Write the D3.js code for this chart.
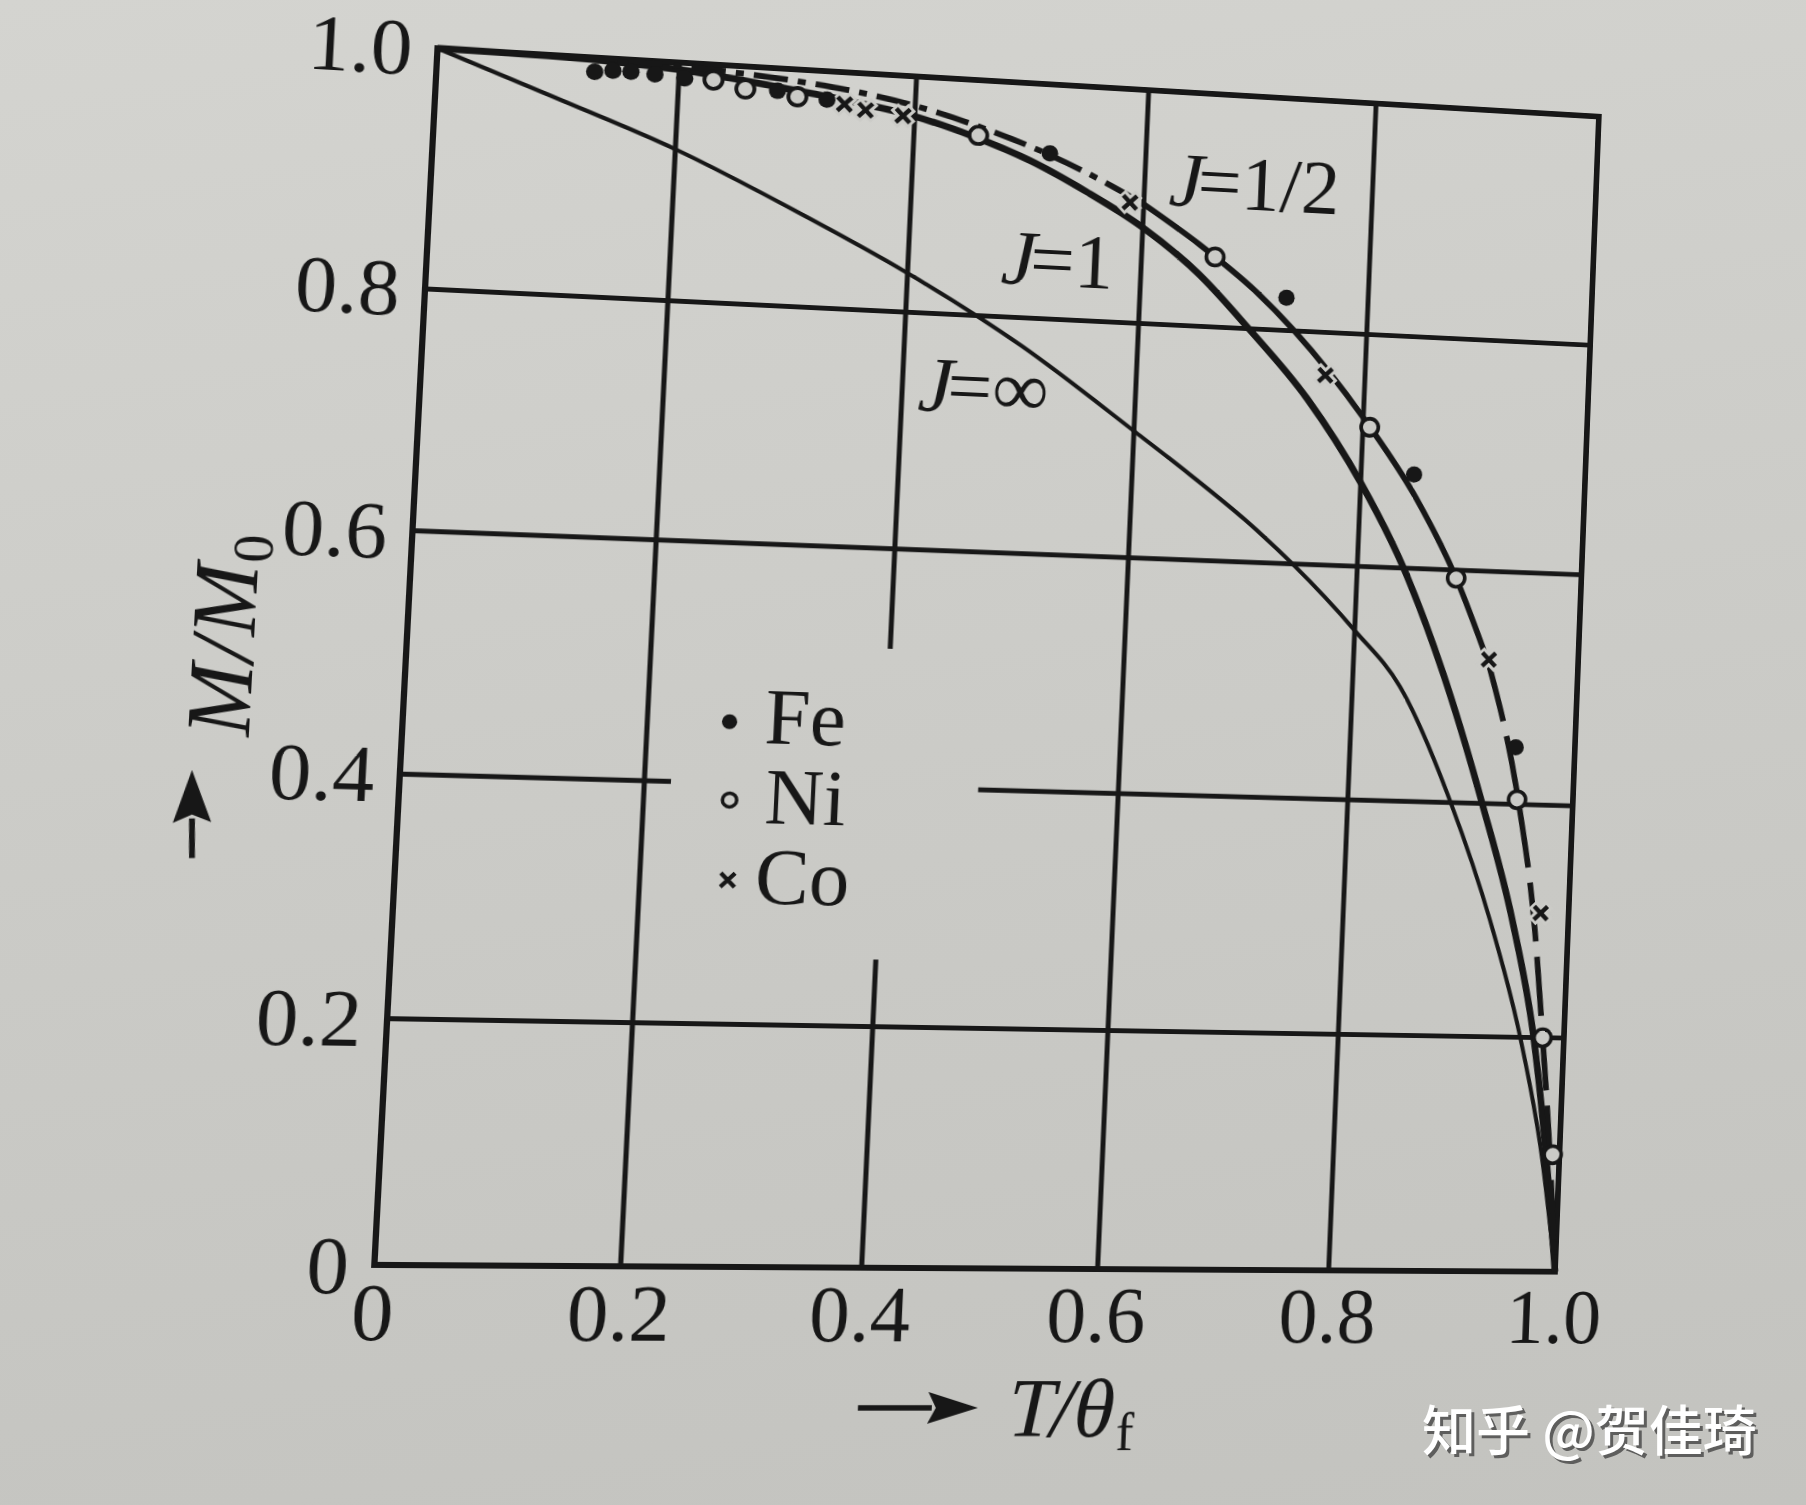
<!DOCTYPE html>
<html><head><meta charset="utf-8">
<script src="https://cdn.jsdelivr.net/npm/d3@7"></script>
<style>
html,body{margin:0;padding:0;width:1806px;height:1505px;overflow:hidden;
 background:linear-gradient(172deg,#d4d4d0 0%,#cbcbc7 50%,#c3c3bf 100%);}
#warp{position:absolute;left:0;top:0;width:1806px;height:1505px;transform-origin:0 0;}
#wm{position:absolute;left:0;top:0;}
</style></head><body>
<div id="warp"><svg id="chart" width="1806" height="1505"></svg></div>
<svg id="wm" width="1806" height="1505"></svg>
<script>
// ---------------- data ----------------
const xTicks = [0, 0.2, 0.4, 0.6, 0.8, 1.0];
const xTickLabels = ["0", "0.2", "0.4", "0.6", "0.8", "1.0"];
const yTicks = [0, 0.2, 0.4, 0.6, 0.8, 1.0];
const yTickLabels = ["0", "0.2", "0.4", "0.6", "0.8", "1.0"];

// Brillouin curves M/M0 vs T/θf
const curveJhalf = [[0,1],[0.1,1.0],[0.2,0.997],[0.3,0.99],[0.35,0.984],[0.4,0.975],[0.45,0.962],[0.5,0.946],[0.55,0.926],[0.6,0.902],[0.65,0.87],[0.7,0.833],[0.736,0.8],[0.8,0.728],[0.85,0.66],[0.888,0.593],[0.92,0.52],[0.951,0.404],[0.97,0.295],[0.981,0.2],[0.99,0.115],[1,0]];
const curveJone = [[0,1],[0.1,0.999],[0.2,0.994],[0.3,0.982],[0.35,0.975],[0.4,0.966],[0.45,0.952],[0.5,0.934],[0.55,0.91],[0.6,0.882],[0.65,0.845],[0.696,0.8],[0.75,0.742],[0.8,0.672],[0.841,0.6],[0.88,0.51],[0.919,0.4],[0.95,0.3],[0.973,0.2],[0.988,0.1],[1,0]];
const curveJinf = [[0,1],[0.1,0.964],[0.2,0.927],[0.3,0.882],[0.4,0.833],[0.5,0.776],[0.6,0.708],[0.65,0.673],[0.7,0.636],[0.743,0.6],[0.8,0.545],[0.842,0.498],[0.891,0.4],[0.93,0.3],[0.961,0.2],[0.984,0.1],[1,0]];

// experimental points
const feData = [[0.13,0.988],[0.145,0.99],[0.16,0.99],[0.18,0.989],[0.205,0.987],[0.283,0.981],[0.325,0.976],[0.517,0.941],[0.728,0.828],[0.847,0.681],[0.947,0.449]];
const niData = [[0.229,0.987],[0.256,0.981],[0.30,0.977],[0.455,0.953],[0.664,0.86],[0.806,0.72],[0.888,0.593],[0.95,0.404],[0.981,0.2],[0.994,0.1]];
const coData = [[0.34,0.973],[0.358,0.969],[0.39,0.966],[0.588,0.903],[0.765,0.763],[0.92,0.524],[0.975,0.307]];

const legendItems = ["Fe", "Ni", "Co"];
const curveLabels = [{j:"1/2"},{j:"1"},{j:"\u221E"}];

// grid lines (with the interruptions of the original figure)
const vGrid = [0.2, 0.4, 0.6, 0.8];
const hGrid = [0.2, 0.4, 0.6, 0.8];
const vGridGaps = [{at:0.4, from:0.256, to:0.516}];
const hGridGaps = [{at:0.4, from:0.222, to:0.48}];

// ---------------- layout ----------------
const INK = "#171717", PAPER = "#cbcbc7";
const SERIF = "'Liberation Serif','Times New Roman',serif";
const PL = 400, PR = 1580, PT = 50, PB = 1267;   // flat plot rectangle
// where the plot corners sit in the photographed page
const photoCorners = [[437.5,48.3],[1598.7,116.6],[1555,1271.7],[374.4,1265]];
const flatCorners = [[PL,PT],[PR,PT],[PR,PB],[PL,PB]];

function solveH(src, dst){
  const A=[], b=[];
  for(let i=0;i<4;i++){
    const [x,y]=src[i], [X,Y]=dst[i];
    A.push([x,y,1,0,0,0,-x*X,-y*X]); b.push(X);
    A.push([0,0,0,x,y,1,-x*Y,-y*Y]); b.push(Y);
  }
  const n=8;
  for(let c=0;c<n;c++){
    let p=c; for(let r=c+1;r<n;r++) if(Math.abs(A[r][c])>Math.abs(A[p][c])) p=r;
    [A[c],A[p]]=[A[p],A[c]]; [b[c],b[p]]=[b[p],b[c]];
    for(let r=0;r<n;r++){ if(r===c) continue; const f=A[r][c]/A[c][c];
      for(let k=c;k<n;k++) A[r][k]-=f*A[c][k]; b[r]-=f*b[c]; }
  }
  const h=b.map((v,i)=>v/A[i][i]);
  return [[h[0],h[1],h[2]],[h[3],h[4],h[5]],[h[6],h[7],1]];
}
function inv3(m){
  const [a,b,c]=m[0],[d,e,f]=m[1],[g,h,i]=m[2];
  const A=e*i-f*h, B=-(d*i-f*g), C=d*h-e*g;
  const det=a*A+b*B+c*C;
  return [[A/det,-(b*i-c*h)/det,(b*f-c*e)/det],
          [B/det,(a*i-c*g)/det,-(a*f-c*d)/det],
          [C/det,-(a*h-b*g)/det,(a*e-b*d)/det]];
}
const H = solveH(flatCorners, photoCorners);
const Hi = inv3(H);
function flat(p){ // photo px -> flat px
  const X=p[0],Y=p[1];
  const w=Hi[2][0]*X+Hi[2][1]*Y+Hi[2][2];
  return [(Hi[0][0]*X+Hi[0][1]*Y+Hi[0][2])/w,(Hi[1][0]*X+Hi[1][1]*Y+Hi[1][2])/w];
}
document.getElementById("warp").style.transform =
  `matrix3d(${H[0][0]},${H[1][0]},0,${H[2][0]},${H[0][1]},${H[1][1]},0,${H[2][1]},0,0,1,0,${H[0][2]},${H[1][2]},0,${H[2][2]})`;

// ---------------- chart ----------------
const svg = d3.select("#chart");
const x = d3.scaleLinear().domain([0,1]).range([PL,PR]);
const y = d3.scaleLinear().domain([0,1]).range([PB,PT]);

// grid
const gridG = svg.append("g").attr("stroke",INK).attr("stroke-width",5).attr("fill","none");
vGrid.forEach(u=>{
  const g = vGridGaps.find(d=>d.at===u);
  const segs = g ? [[0,g.from],[g.to,1]] : [[0,1]];
  segs.forEach(([a,b])=>gridG.append("line").attr("x1",x(u)).attr("x2",x(u)).attr("y1",y(a)).attr("y2",y(b)));
});
hGrid.forEach(v=>{
  const g = hGridGaps.find(d=>d.at===v);
  const segs = g ? [[0,g.from],[g.to,1]] : [[0,1]];
  segs.forEach(([a,b])=>gridG.append("line").attr("y1",y(v)).attr("y2",y(v)).attr("x1",x(a)).attr("x2",x(b)));
});
// frame
svg.append("rect").attr("x",x(0)).attr("y",y(1)).attr("width",x(1)-x(0)).attr("height",y(0)-y(1))
  .attr("fill","none").attr("stroke",INK).attr("stroke-width",6);

// axes (labels only)
const gx = svg.append("g").attr("transform",`translate(0,${y(0)})`)
  .call(d3.axisBottom(x).tickValues(xTicks).tickSize(0).tickFormat((d,i)=>xTickLabels[i]));
gx.select(".domain").remove();
gx.attr("font-family",SERIF).attr("font-size",80).attr("color",INK);
gx.selectAll("text").attr("y",74).attr("dy",0);

const gy = svg.append("g").attr("transform",`translate(${x(0)},0)`)
  .call(d3.axisLeft(y).tickValues(yTicks).tickSize(0).tickPadding(24).tickFormat((d,i)=>yTickLabels[i]));
gy.select(".domain").remove();
gy.attr("font-family",SERIF).attr("font-size",80).attr("color",INK);
gy.selectAll("text").attr("dy","0.34em");

// curves
const line = d3.line().x(d=>x(d[0])).y(d=>y(d[1])).curve(d3.curveMonotoneX);
svg.append("path").attr("d",line(curveJinf)).attr("fill","none").attr("stroke",INK).attr("stroke-width",4.2);
svg.append("path").attr("d",line(curveJone)).attr("fill","none").attr("stroke",INK).attr("stroke-width",7);
svg.append("path").attr("d",line(curveJhalf.filter(d=>d[0]<=0.6))).attr("fill","none")
  .attr("stroke",INK).attr("stroke-width",6).attr("stroke-dasharray","34 10 8 10");
svg.append("path").attr("d",line(curveJhalf.filter(d=>d[0]>=0.6 && d[0]<=0.92))).attr("fill","none")
  .attr("stroke",INK).attr("stroke-width",6);
svg.append("path").attr("d",line(curveJhalf.filter(d=>d[0]>=0.92))).attr("fill","none")
  .attr("stroke",INK).attr("stroke-width",6).attr("stroke-dasharray","62 16");

// markers
const mk = svg.append("g");
function cross(g, cx, cy, s, sw, col){
  g.append("path").attr("d",`M${cx-s},${cy-s}L${cx+s},${cy+s}M${cx-s},${cy+s}L${cx+s},${cy-s}`)
    .attr("stroke",col).attr("stroke-width",sw).attr("fill","none");
}
coData.forEach(d=>cross(mk,x(d[0]),y(d[1]),9,11,PAPER));
coData.forEach(d=>cross(mk,x(d[0]),y(d[1]),7,4.5,INK));
feData.forEach(d=>mk.append("circle").attr("cx",x(d[0])).attr("cy",y(d[1])).attr("r",8.5).attr("fill",INK));
niData.forEach(d=>mk.append("circle").attr("cx",x(d[0])).attr("cy",y(d[1])).attr("r",9)
  .attr("fill",PAPER).attr("stroke",INK).attr("stroke-width",3.8));

// curve labels  J=1/2, J=1, J=∞
const labelPos = [[1168,205],[1000,283],[917,410]];
curveLabels.forEach((c,i)=>{
  const p = flat(labelPos[i]);
  const t = svg.append("text").attr("x",p[0]).attr("y",p[1]).attr("font-family",SERIF)
    .attr("font-size",80).attr("fill",INK);
  t.append("tspan").attr("font-style","italic").text("J");
  t.append("tspan").attr("dx",-6).text("=" + c.j);
});

// legend
const legMarks = [[729.6,721.7],[729.6,800],[727.7,880]];
const legText = [[764,743],[764,823],[754,903]];
legendItems.forEach((name,i)=>{
  const m = flat(legMarks[i]);
  if(i===0) mk.append("circle").attr("cx",m[0]).attr("cy",m[1]).attr("r",7.5).attr("fill",INK);
  if(i===1) mk.append("circle").attr("cx",m[0]).attr("cy",m[1]).attr("r",7).attr("fill","none").attr("stroke",INK).attr("stroke-width",3.5);
  if(i===2) cross(mk,m[0],m[1],7,4.2,INK);
  const p = flat(legText[i]);
  svg.append("text").attr("x",p[0]).attr("y",p[1]).attr("font-family",SERIF).attr("font-size",80)
    .attr("fill",INK).text(name);
});

// axis titles with arrows
function arrow(tail, tip, half, headLen){
  const a = flat(tail), b = flat(tip);
  const dx=b[0]-a[0], dy=b[1]-a[1], L=Math.hypot(dx,dy), ux=dx/L, uy=dy/L;
  const bx=b[0]-ux*headLen, by=b[1]-uy*headLen;
  svg.append("line").attr("x1",a[0]).attr("y1",a[1]).attr("x2",bx+ux*4).attr("y2",by+uy*4)
    .attr("stroke",INK).attr("stroke-width",5.5);
  svg.append("path").attr("d",`M${b[0]},${b[1]}L${bx-uy*half},${by+ux*half}L${bx+ux*8},${by+uy*8}L${bx+uy*half},${by-ux*half}Z`)
    .attr("fill",INK);
}
arrow([858,1408],[978,1408],16,50);
arrow([192,858],[192,770],18,52);

const xt = flat([1007,1437]);
const xtitle = svg.append("text").attr("x",xt[0]).attr("y",xt[1]).attr("font-family",SERIF)
  .attr("font-size",84).attr("fill",INK);
xtitle.append("tspan").attr("font-style","italic").text("T");
xtitle.append("tspan").attr("font-style","italic").attr("dx",-4).text("/");
xtitle.append("tspan").attr("font-style","italic").text("\u03B8");
xtitle.append("tspan").attr("font-size",54).attr("dy",14).attr("dx",2).text("f");

const yt = flat([249,737]);
const ytitle = svg.append("text").attr("transform",`translate(${yt[0]},${yt[1]}) rotate(-90)`)
  .attr("font-family",SERIF).attr("font-size",86).attr("fill",INK);
ytitle.append("tspan").attr("font-style","italic").text("M");
ytitle.append("tspan").attr("font-style","italic").attr("dx",2).text("/");
ytitle.append("tspan").attr("font-style","italic").attr("dx",2).text("M");
ytitle.append("tspan").attr("font-size",56).attr("dy",13).attr("dx",2).text("0");

// ---------------- watermark ----------------
const wm = d3.select("#wm");
const wmText = "知乎 @贺佳琦";
wm.append("text").attr("x",1425).attr("y",1454).attr("font-family","'Noto Sans CJK SC',sans-serif")
  .attr("font-size",54).attr("font-weight",500).attr("fill","#3c3c3c").attr("opacity",0.75).text(wmText);
wm.append("text").attr("x",1422).attr("y",1451).attr("font-family","'Noto Sans CJK SC',sans-serif")
  .attr("font-size",54).attr("font-weight",500).attr("fill","#ffffff").text(wmText);
</script>
</body></html>
